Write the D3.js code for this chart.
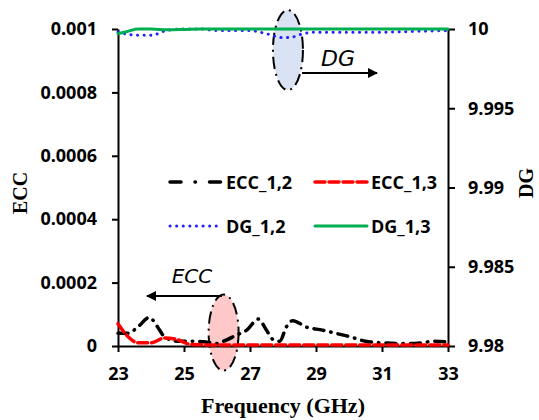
<!DOCTYPE html>
<html>
<head>
<meta charset="utf-8">
<script src="https://cdn.jsdelivr.net/npm/d3@7"></script>
<style>
  body { margin: 0; background: #fff; }
  svg text { fill: #000; }
</style>
</head>
<body>
<svg id="chart" width="539" height="420"></svg>
<script>
// frequency points (GHz) and values
var ecc12Freq = [23, 23.3, 23.6, 23.95, 24.2, 24.4, 24.8, 25.3, 25.7, 26.0, 26.2, 26.6, 26.9, 27.25, 27.5, 27.7, 27.9, 28.1, 28.3, 28.7, 29.2, 29.6, 30.0, 30.5, 31.0, 31.5, 32.0, 32.6, 33]
var ecc12 = [0.00004, 0.00004, 0.00006, 0.00009, 0.00006, 0.00003, 0.000015, 0.000015, 0.000012, 0.000008, 0.000015, 0.000035, 0.00005, 0.000085, 0.00005, 0.00002, 0.000015, 0.00006, 0.00008, 0.00006, 0.00005, 0.00004, 0.00003, 0.000015, 0.00001, 0.000008, 0.000008, 0.000015, 0.000012]

var ecc13Freq = [23, 23.3, 23.6, 24.0, 24.4, 24.8, 25.2, 26, 27, 28, 29, 30, 31, 32, 33]
var ecc13 = [0.00007, 0.00003, 0.00001, 0.00001, 0.000025, 0.00002, 0.000005, 0.000003, 0.000003, 0.000003, 0.000003, 0.000003, 0.000003, 0.000003, 0.000003]

var dg12Freq = [23, 23.5, 24, 24.5, 25, 25.5, 26, 27, 27.5, 28, 28.3, 28.6, 29, 30, 31, 32, 33]
var dg12 = [9.9998, 9.99962, 9.9996, 9.99992, 10, 10, 9.9999, 9.9999, 9.9997, 9.99945, 9.9995, 9.9997, 9.9998, 9.9998, 9.9998, 9.99985, 9.9999]

var dg13Freq = [23, 23.3, 23.6, 24, 24.5, 25, 25.5, 26, 28, 30, 33]
var dg13 = [9.9997, 9.99985, 10, 10, 9.99995, 9.99997, 10, 10, 10, 10, 10]

var xTicks = [23, 25, 27, 29, 31, 33]
var eccTicks = [0, 0.0002, 0.0004, 0.0006, 0.0008, 0.001]
var eccTickLabels = ["0", "0.0002", "0.0004", "0.0006", "0.0008", "0.001"]
var dgTicks = [9.98, 9.985, 9.99, 9.995, 10]
var dgTickLabels = ["9.98", "9.985", "9.99", "9.995", "10"]

var dimensions = {
    width: 539,
    height: 420,
    margin: { top: 29, bottom: 74, left: 118, right: 91 }
}

var svg = d3.select("#chart")

var xScale = d3.scaleLinear()
    .domain([23, 33])
    .range([dimensions.margin.left, dimensions.width - dimensions.margin.right])

var yScale = d3.scaleLinear()
    .domain([0, 0.001])
    .range([dimensions.height - dimensions.margin.bottom, dimensions.margin.top])

var y2Scale = d3.scaleLinear()
    .domain([9.98, 10])
    .range([dimensions.height - dimensions.margin.bottom, dimensions.margin.top])

var tickFont = "'Open Sans', sans-serif"
var titleFont = "'Liberation Serif', 'Times New Roman', serif"

// annotation ellipses sit behind the curves
var ellipses = svg.append("g")
ellipses.append("ellipse")
    .attr("cx", xScale(28.15)).attr("cy", y2Scale(9.99867))
    .attr("rx", 15).attr("ry", 40)
    .attr("fill", "#dae3f3")
    .attr("stroke", "#000").attr("stroke-width", 2)
    .attr("stroke-dasharray", "12,5,2,5")
ellipses.append("ellipse")
    .attr("cx", xScale(26.2)).attr("cy", yScale(0.0000425))
    .attr("rx", 15).attr("ry", 38)
    .attr("fill", "#ffc9c9")
    .attr("stroke", "#000").attr("stroke-width", 2)
    .attr("stroke-dasharray", "12,5,2,5")

// axes
var xAxisGen = d3.axisBottom(xScale).tickValues(xTicks).tickSize(6).tickSizeOuter(0)
var yAxisGen = d3.axisLeft(yScale).tickValues(eccTicks).tickSize(6).tickSizeOuter(0)
    .tickFormat((d, i) => eccTickLabels[i])
var y2AxisGen = d3.axisRight(y2Scale).tickValues(dgTicks).tickSize(7).tickSizeOuter(0)
    .tickFormat((d, i) => dgTickLabels[i])

function styleAxis(g) {
    g.selectAll("path, line").attr("stroke", "#000").attr("stroke-width", 2)
    g.selectAll("text")
        .style("font-family", tickFont)
        .style("font-weight", "bold")
        .style("font-size", "18px")
}

svg.append("g")
    .attr("transform", "translate(0," + (dimensions.height - dimensions.margin.bottom) + ")")
    .call(xAxisGen)
    .call(styleAxis)
    .selectAll("text").attr("y", 34).attr("dy", 0)

svg.append("g")
    .attr("transform", "translate(" + dimensions.margin.left + ",0)")
    .call(yAxisGen)
    .call(styleAxis)
    .selectAll("text").attr("x", -21)

svg.append("g")
    .attr("transform", "translate(" + (dimensions.width - dimensions.margin.right) + ",0)")
    .call(y2AxisGen)
    .call(styleAxis)
    .selectAll("text").attr("x", 20)

// curves
var eccLine = d3.line().x(d => xScale(d[0])).y(d => yScale(d[1])).curve(d3.curveMonotoneX)
var dgLine = d3.line().x(d => xScale(d[0])).y(d => y2Scale(d[1])).curve(d3.curveMonotoneX)

var series = [
    { name: "ECC_1,2", pts: d3.zip(ecc12Freq, ecc12), gen: eccLine, color: "#000", width: 3.5, dash: "10,7,0.5,7" },
    { name: "ECC_1,3", pts: d3.zip(ecc13Freq, ecc13), gen: eccLine, color: "#ff0000", width: 3.5, dash: "10,4" },
    { name: "DG_1,2", pts: d3.zip(dg12Freq, dg12), gen: dgLine, color: "#2020ff", width: 3, dash: "0.1,6.5" },
    { name: "DG_1,3", pts: d3.zip(dg13Freq, dg13), gen: dgLine, color: "#00b050", width: 3, dash: null }
]

series.forEach(s => {
    svg.append("path")
        .datum(s.pts)
        .attr("d", s.gen)
        .attr("fill", "none")
        .attr("stroke", s.color)
        .attr("stroke-width", s.width)
        .attr("stroke-linecap", "round")
        .attr("stroke-dasharray", s.dash)
})

// legend
var legendPos = [[170, 182], [315, 182], [170, 226], [315, 226]]
series.forEach((s, i) => {
    var p = legendPos[i]
    svg.append("line")
        .attr("x1", p[0]).attr("x2", p[0] + 52)
        .attr("y1", p[1]).attr("y2", p[1])
        .attr("stroke", s.color)
        .attr("stroke-width", s.width)
        .attr("stroke-linecap", "round")
        .attr("stroke-dasharray", i == 0 ? "11,14,0.5,14" : s.dash)
    svg.append("text")
        .attr("x", p[0] + 56).attr("y", p[1] + 7)
        .style("font-family", tickFont)
        .style("font-weight", "bold")
        .style("font-size", "18px")
        .text(s.name)
})

// arrows and labels of the annotations
var defs = svg.append("defs")
defs.append("marker")
    .attr("id", "arrow")
    .attr("viewBox", "0 0 10 10")
    .attr("refX", 9).attr("refY", 5)
    .attr("markerWidth", 5).attr("markerHeight", 5)
    .attr("orient", "auto")
    .append("path").attr("d", "M0,0 L10,5 L0,10 z").attr("fill", "#000")

svg.append("line")
    .attr("x1", 302).attr("y1", 73).attr("x2", 377).attr("y2", 73)
    .attr("stroke", "#000").attr("stroke-width", 2)
    .attr("marker-end", "url(#arrow)")
svg.append("text")
    .attr("x", 338).attr("y", 66)
    .attr("text-anchor", "middle")
    .style("font-family", "'DejaVu Sans', sans-serif")
    .style("font-style", "italic")
    .style("font-size", "22px")
    .text("DG")

svg.append("line")
    .attr("x1", 222).attr("y1", 296).attr("x2", 147).attr("y2", 296)
    .attr("stroke", "#000").attr("stroke-width", 2)
    .attr("marker-end", "url(#arrow)")
svg.append("text")
    .attr("x", 192).attr("y", 283)
    .attr("text-anchor", "middle")
    .style("font-family", "'DejaVu Sans', sans-serif")
    .style("font-style", "italic")
    .style("font-size", "20px")
    .text("ECC")

// axis titles
svg.append("text")
    .attr("x", 283).attr("y", 413)
    .attr("text-anchor", "middle")
    .style("font-family", titleFont)
    .style("font-weight", "bold")
    .style("font-size", "22px")
    .text("Frequency (GHz)")

svg.append("text")
    .attr("transform", "translate(27,193) rotate(-90)")
    .attr("text-anchor", "middle")
    .style("font-family", titleFont)
    .style("font-weight", "bold")
    .style("font-size", "20px")
    .text("ECC")

svg.append("text")
    .attr("transform", "translate(533,183) rotate(-90)")
    .attr("text-anchor", "middle")
    .style("font-family", titleFont)
    .style("font-weight", "bold")
    .style("font-size", "20px")
    .text("DG")
</script>
</body>
</html>
